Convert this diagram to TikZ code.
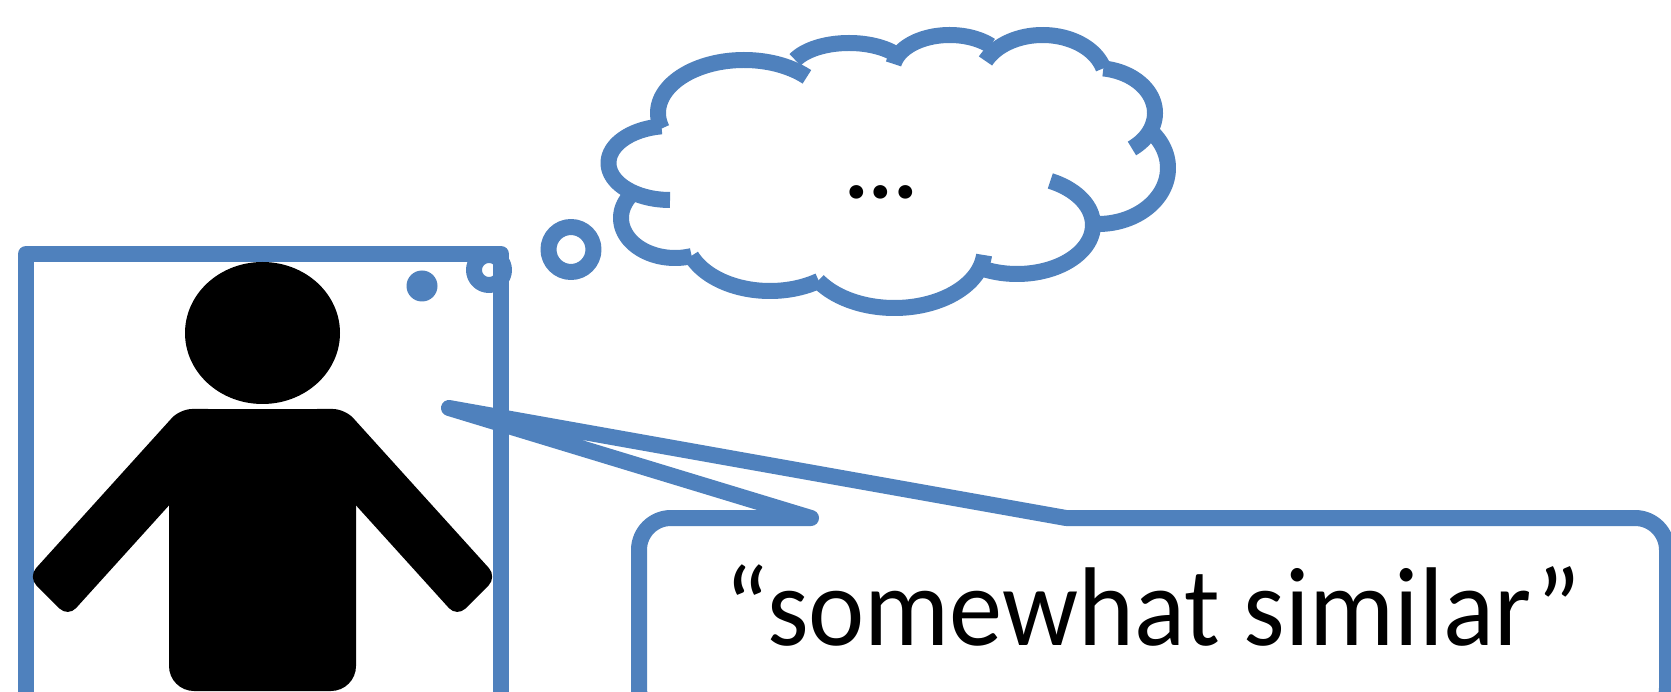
\documentclass[tikz,border=0pt]{standalone}
\usepackage{fontspec}
\setmainfont{Carlito}
\definecolor{pblue}{HTML}{4F81BD}
\tikzset{
  bluestroke/.style={draw=pblue,line width=16pt,line join=round,line cap=round},
  cloudarc/.style={draw=pblue,line width=16pt,line cap=butt},
  saying/.style={font=\fontsize{112}{120}\selectfont,text=black,inner sep=0pt,anchor=base,transform shape,xscale=0.95},
  thinking/.style={font=\bfseries\fontsize{92}{110}\selectfont,text=black,inner sep=0pt,anchor=base}
}
\newcommand{\lobe}[6]{\draw[cloudarc] plot[domain=#5:#6,samples=50,smooth] ({#1+#3*cos(\x)},{#2+#4*sin(\x)});}
\begin{document}
\begin{tikzpicture}[x=1pt,y=-1pt]
\useasboundingbox (0,0) rectangle (1671,692);
\clip (0,0) rectangle (1671,692);
\fill[white] (0,0) rectangle (1671,692);
% thought bubbles
\draw[bluestroke] (571,249.5) circle [radius=22.5];
\fill[pblue] (422,286) circle [radius=15.5];
\draw[bluestroke] (489,270) circle [radius=15];
% frame
\draw[bluestroke] (26,710) -- (26,254) -- (501,254) -- (501,710);
% person
\fill[black] (262.5,333) ellipse [x radius=77.5,y radius=71];
\fill[black,rounded corners=25pt] (169,440) rectangle (356,691);
\fill[black] (190,409) rectangle (335,460);
\fill[black,rounded corners=12pt] (68,617) -- (220,449) -- (220,409) -- (180,409) -- (28,577) -- cycle;
\fill[black,rounded corners=12pt] (457,617) -- (305,449) -- (305,409) -- (345,409) -- (497,577) -- cycle;
% cloud
\lobe{744}{113}{86}{53}{163}{317}
\lobe{849}{73}{60}{30}{206}{322}
\lobe{949.7}{70}{57}{35}{190}{316}
\lobe{1042.6}{80}{63}{45}{205}{345}
\lobe{1095}{113}{60}{45}{278}{412}
\lobe{1098}{168}{70}{56}{322}{450}
\lobe{1017}{225}{76}{49}{-64}{117}
\lobe{894.4}{250}{90}{58}{5}{148}
\lobe{770}{235}{85}{56}{55}{158}
\lobe{675}{218}{54}{40}{72}{215}
\lobe{670}{163}{61.5}{37}{90}{262}
\node[thinking] (dots) at (881,199) {...};
% callout
\draw[bluestroke] (811,518) -- (449,408) -- (1066,518)
  [rounded corners=32pt] -- (1667,518) -- (1667,720) -- (639,720) -- (639,518) -- (811,518);
\node[saying] (quote) at (1153,645) {“somewhat similar”};
\end{tikzpicture}
\end{document}
